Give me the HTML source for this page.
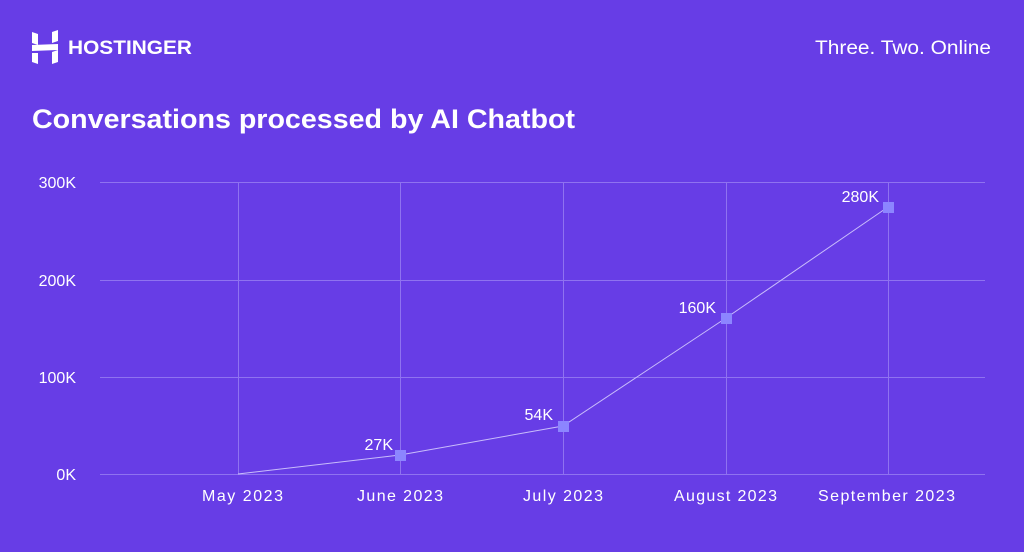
<!DOCTYPE html>
<html><head><meta charset="utf-8"><style>
body{margin:0;width:1024px;height:547px;background:#673de6;overflow:hidden;font-family:"Liberation Sans",sans-serif;}
</style></head><body>
<svg width="1024" height="547" xmlns="http://www.w3.org/2000/svg" font-family="Liberation Sans, sans-serif">
<rect width="1024" height="547" fill="#673de6"/>
<g fill="#fff">
<polygon points="32,32 38,34 38,45 32,43"/>
<polygon points="52,32 58,30 58,41 52,43"/>
<polygon points="32,45 58,44 58,50 32,51"/>
<polygon points="32,53 38,53 38,64 32,62"/>
<polygon points="52,52 58,50 58,62 52,64"/>
</g>
<text x="68" y="54" fill="#fff" font-size="19" font-weight="bold" textLength="124" lengthAdjust="spacingAndGlyphs">HOSTINGER</text>
<text x="815" y="54" fill="#fff" font-size="19" textLength="176" lengthAdjust="spacingAndGlyphs">Three. Two. Online</text>
<text x="32" y="128" fill="#fff" font-size="27" font-weight="bold" textLength="543" lengthAdjust="spacingAndGlyphs">Conversations processed by AI Chatbot</text>
<g stroke="#8f72f0" stroke-width="1">
<line x1="100" y1="182.5" x2="985" y2="182.5"/>
<line x1="100" y1="280.5" x2="985" y2="280.5"/>
<line x1="100" y1="377.5" x2="985" y2="377.5"/>
<line x1="100" y1="474.5" x2="985" y2="474.5"/>
<line x1="238.5" y1="182" x2="238.5" y2="474"/>
<line x1="400.5" y1="182" x2="400.5" y2="474"/>
<line x1="563.5" y1="182" x2="563.5" y2="474"/>
<line x1="726.5" y1="182" x2="726.5" y2="474"/>
<line x1="888.5" y1="182" x2="888.5" y2="474"/>
</g>
<g fill="#fff" font-size="16" text-anchor="end">
<text x="76" y="188">300K</text><text x="76" y="286">200K</text><text x="76" y="383">100K</text><text x="76" y="480">0K</text>
</g>
<g fill="#fff" font-size="16" lengthAdjust="spacingAndGlyphs">
<text x="202" y="501" textLength="81">May 2023</text>
<text x="357" y="501" textLength="86">June 2023</text>
<text x="523" y="501" textLength="80">July 2023</text>
<text x="674" y="501" textLength="103">August 2023</text>
<text x="818" y="501" textLength="137">September 2023</text>
</g>
<polyline points="238,474 400,455 563,426 726,318 888,207" fill="none" stroke="#c9bdfb" stroke-width="1"/>
<g fill="#8c85ff">
<rect x="395" y="450" width="11" height="11"/>
<rect x="558" y="421" width="11" height="11"/>
<rect x="721" y="313" width="11" height="11"/>
<rect x="883" y="202" width="11" height="11"/>
</g>
<g fill="#fff" font-size="16" text-anchor="end">
<text x="393" y="450">27K</text><text x="553" y="420">54K</text><text x="716" y="313">160K</text><text x="879" y="202">280K</text>
</g>
</svg>
</body></html>
